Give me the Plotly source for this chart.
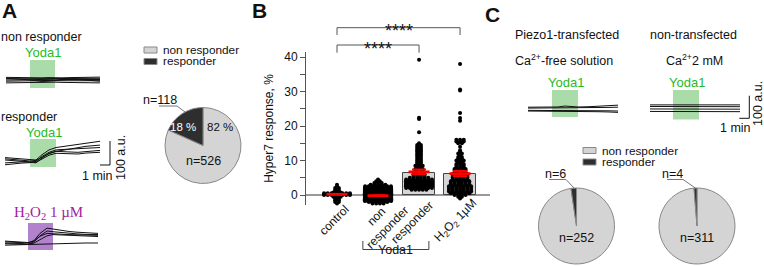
import numpy as np
import plotly.graph_objects as go

W, H = 764, 266
FONT = "Liberation Sans, Arial, sans-serif"

# ---------------- data ----------------
# Panel A: time courses (time in min, Hyper7 signal in a.u.)
t_nonresp = [0, 0.8, 1.6, 2.4, 3.0, 3.6, 4.2, 4.9, 5.6, 6.4, 7.2, 8.0, 8.8, 9.4]
nonresp_traces = [
    [11, 10, 9, 9, 8, 9, 10, 9, 9, 10, 11, 11, 12, 12],
    [5, 5, 4, 5, 6, 5, 4, 4, 5, 6, 6, 7, 7, 7],
    [0, 1, 2, 2, 1, 2, 3, 3, 2, 1, 1, 2, 2, 2],
    [-5, -4, -3, -2, -1, -1, -2, -3, -3, -2, -2, -3, -3, -3],
    [-12, -11, -10, -10, -9, -8, -8, -9, -10, -10, -10, -11, -11, -12],
    [7, 6, 3, 0, -4, -6, -5, -2, 1, 3, 2, 0, -3, -5],
]
yoda_nonresp = [2.4, 4.9]

t_resp = [0, 0.8, 1.6, 2.5, 3.1, 3.7, 4.4, 5.1, 5.8, 6.5, 7.3, 8.1, 8.9, 9.5]
resp_traces = [
    [10, 8, 6, 2, 0, 22, 42, 52, 56, 60, 65, 70, 75, 78],
    [0, -3, -5, -8, -6, 15, 32, 42, 44, 46, 47, 50, 52, 52],
    [-12, -10, -8, -9, -12, 8, 28, 36, 35, 33, 32, 35, 38, 40],
    [5, 3, 0, -4, -2, 12, 26, 36, 41, 48, 54, 57, 60, 62],
    [-20, -16, -13, -11, -9, 4, 20, 28, 28, 27, 25, 29, 31, 32],
]
yoda_resp = [2.5, 5.1]

t_h2o2 = [0, 0.8, 1.6, 2.3, 2.9, 3.5, 4.2, 4.8, 5.6, 6.4, 7.2, 8.0, 8.8, 9.3]
h2o2_traces = [
    [5, 4, 3, 0, 10, 40, 62, 58, 52, 48, 45, 42, 40, 40],
    [0, 0, -2, -5, 5, 30, 50, 47, 43, 40, 38, 36, 35, 35],
    [8, 6, 5, 2, 8, 28, 40, 38, 36, 35, 34, 33, 32, 32],
    [-3, -3, -4, -6, 0, 15, 30, 35, 34, 33, 32, 30, 28, 27],
    [-9, -8, -7, -6, -6, -4, -3, -1, 0, 1, 1, 0, 0, 0],
]
h2o2_stim = [2.3, 4.8]

# Panel C: time courses
t_c = [0, 1, 2, 2.4, 3.0, 3.7, 4.3, 5.0, 6, 7, 8, 9]
piezo_traces = [
    [8, 8, 8, 8, 9, 13, 10, 9, 10, 12, 14, 17],
    [4, 4, 4, 4, 5, 7, 6, 5, 5, 6, 7, 8],
    [-6, -6, -6, -6, -5, -5, -5, -6, -6, -7, -8, -9],
    [-9, -9, -9, -9, -9, -9, -10, -10, -11, -12, -13, -15],
]
yoda_piezo = [2.4, 5.0]
nontrans_traces = [
    [16, 16, 16, 16, 16, 16, 16, 16, 16, 16, 16, 16],
    [9, 9, 9, 8, 8, 8, 8, 8, 8, 8, 8, 8],
    [-2, -2, -3, -3, -3, -3, -3, -3, -3, -3, -3, -3],
    [-13, -13, -13, -14, -14, -14, -14, -14, -14, -14, -14, -14],
]
yoda_nontrans = [2.3, 4.9]

# Pies
pie_labels = ["non responder", "responder"]
pieA_values = [526, 118]
pieC1_values = [252, 6]
pieC2_values = [311, 4]

# Panel B: Hyper7 response, % (value rows and number of cells in each row)
b_categories = ["control", "non<br>responder", "responder", "H<sub>2</sub>O<sub>2</sub> 1µM"]
control_vals = [-3.0, -2.5, -2.0, -1.5, -1.0, -0.5, 0.0, 0.25, 0.5, 0.75, 1.0, 1.5, 2.0, 2.5, 3.0]
control_cnt = [1, 1, 2, 2, 2, 3, 8, 8, 8, 3, 2, 2, 2, 1, 1]
nonresp_vals = [-3.5, -3.0, -2.5, -2.0, -1.75, -1.5, -1.25, -1.0, -0.75, -0.5, -0.25, 0.0, 0.25,
                0.5, 0.75, 1.0, 1.25, 1.5, 1.75, 2.0, 2.5, 3.0, 3.5, 4.0, 4.5]
nonresp_cnt = [2, 3, 4, 6, 10, 22, 28, 32, 35, 37, 38, 38, 38, 36, 34, 32, 30, 26, 22, 16, 8, 5, 3, 2, 1]
resp_vals = [1.5, 2.0, 2.5, 3.0, 3.5, 4.0, 4.5, 5.0, 5.5, 6.0, 6.5, 7.0, 7.5, 8.0, 8.5, 9.0, 9.5,
             10.0, 10.5, 11.0, 11.5, 12.0, 12.5, 13.0, 13.5, 14.0, 14.5, 15.0, 18.2, 22.0, 22.4, 39.2]
resp_cnt = [5, 8, 10, 11, 10, 9, 8, 6, 4, 4, 3, 3, 3, 2, 3, 2, 2, 2, 2, 2, 2, 2, 2, 2, 2, 2, 2, 1, 1, 1, 1, 1]
h2o2_vals = [-1.0, -0.5, 0.0, 0.5, 1.0, 1.5, 2.0, 2.5, 3.0, 3.5, 4.0, 4.5, 5.0, 5.5, 6.0, 6.5, 7.0,
             7.5, 8.0, 8.5, 9.0, 9.5, 10.0, 10.5, 11.0, 11.5, 12.0, 12.5, 13.0, 14.0, 15.0, 15.5,
             16.0, 21.5, 22.3, 23.8, 30.3, 30.6, 38.0]
h2o2_cnt = [1, 2, 4, 6, 7, 7, 7, 7, 6, 6, 6, 5, 5, 5, 5, 4, 4, 4, 3, 3, 3, 2, 3, 2, 2, 1, 2, 1, 1,
            1, 2, 3, 3, 1, 1, 1, 1, 1, 1]
b_bar = [6.4, 6.0]          # bars for responder and H2O2
b_mean = [0.2, -0.2, 6.7, 6.2]
b_sem = [0.05, 0.04, 0.7, 0.75]
b_yticks = [0, 10, 20, 30, 40]


# ---------------- helpers ----------------
def dom_x(a, b):
    return [a / W, b / W]


def dom_y(top, bottom):
    return [1 - bottom / H, 1 - top / H]


def py(p):
    return 1 - p / H


def swarm(center, vals, cnts, maxw=0.64, step=0.09):
    xs, ys = [], []
    for v, n in zip(vals, cnts):
        s = min(step, maxw / (n - 1)) if n > 1 else 0.0
        for i in range(n):
            xs.append(center + (i - (n - 1) / 2) * s)
            ys.append(v)
    return xs, ys


fig = go.Figure()
annotations = []
shapes = []


def ann(text, x, y, size=12.5, color="#111", xanchor="center", **kw):
    annotations.append(dict(text=text, x=x / W, y=py(y), xref="paper", yref="paper",
                            showarrow=False, xanchor=xanchor, yanchor="middle", borderpad=0,
                            font=dict(size=size, color=color, family=kw.pop("family", FONT)), **kw))


GREEN_BOX = "#aadcaa"
GREEN_TXT = "#25bb25"
PURPLE_BOX = "#b183cc"
PURPLE_TXT = "#a0229e"

# ---------------- mini trace panels ----------------
# (t, traces, stim, box colour, x-domain px, x-range, y-domain px, baseline px, px per 100 a.u.)
mini = [
    (t_nonresp, nonresp_traces, yoda_nonresp, GREEN_BOX, (6, 100), (0, 9.4), (60, 88), 80, 24),
    (t_resp, resp_traces, yoda_resp, GREEN_BOX, (5, 112), (0, 10.7), (139, 167), 160, 24),
    (t_h2o2, h2o2_traces, h2o2_stim, PURPLE_BOX, (5, 98), (0, 9.3), (223, 250), 243, 24),
    (t_c, piezo_traces, yoda_piezo, GREEN_BOX, (528, 618), (0, 9.0), (90, 117), 109, 22.6),
    (t_c, nontrans_traces, yoda_nontrans, GREEN_BOX, (650, 752), (0, 10.2), (90, 119.5), 108.5, 22.6),
]
layout_axes = {}
for i, (t, traces, stim, boxc, xd, xr, yd, base, k) in enumerate(mini):
    n = i + 2
    xa, ya = f"x{n}", f"y{n}"
    scale = 100.0 / k
    yr = [(base - yd[1]) * scale, (base - yd[0]) * scale]
    layout_axes[f"xaxis{n}"] = dict(domain=dom_x(*xd), range=list(xr), visible=False,
                                    anchor=ya, fixedrange=True, automargin=False)
    layout_axes[f"yaxis{n}"] = dict(domain=dom_y(*yd), range=yr, visible=False,
                                    anchor=xa, fixedrange=True, automargin=False)
    shapes.append(dict(type="rect", xref=xa, yref=f"{ya} domain", x0=stim[0], x1=stim[1],
                       y0=0, y1=1, fillcolor=boxc, line=dict(width=0), layer="below"))
    for tr in traces:
        fig.add_trace(go.Scatter(x=t, y=tr, xaxis=xa, yaxis=ya, mode="lines",
                                 line=dict(color="#111", width=1), showlegend=False,
                                 hoverinfo="skip"))

# scale bars (1 min, 100 a.u.)
scale_min, scale_au = 1, 100
for n, (xe, yb) in [(3, (10.5, -20.8)), (6, (9.93, -43.4))]:
    fig.add_trace(go.Scatter(x=[xe - scale_min, xe, xe], y=[yb, yb, yb + scale_au],
                             xaxis=f"x{n}", yaxis=f"y{n}", mode="lines",
                             line=dict(color="#111", width=1), showlegend=False, hoverinfo="skip"))

# ---------------- panel B ----------------
groups = [(control_vals, control_cnt), (nonresp_vals, nonresp_cnt),
          (resp_vals, resp_cnt), (h2o2_vals, h2o2_cnt)]
fig.add_trace(go.Bar(x=[2, 3], y=b_bar, width=0.76, marker=dict(color="#d6d6d6",
                     line=dict(color="#444", width=1)), showlegend=False, hoverinfo="skip"))
for gi, (v, c) in enumerate(groups):
    xs, ys = swarm(gi, v, c)
    fig.add_trace(go.Scatter(x=xs, y=ys, mode="markers", cliponaxis=False,
                             marker=dict(color="#000", size=4, line=dict(width=0)),
                             showlegend=False, hoverinfo="skip"))
fig.add_trace(go.Scatter(x=[0, 1, 2, 3], y=b_mean, mode="markers", cliponaxis=False,
                         marker=dict(symbol="line-ew", size=15, color="red",
                                     line=dict(color="red", width=2.8)),
                         error_y=dict(type="data", array=b_sem, color="red", thickness=2, width=7),
                         showlegend=False, hoverinfo="skip"))

# category labels (rotated, centred lines), placed on the category axis
cat_label_pos = [(-0.07, 220), (1.1, 222), (1.84, 222), (2.9, 221)]
for lab, (cx, cy) in zip(b_categories, cat_label_pos):
    annotations.append(dict(text=lab, x=cx, y=py(cy), xref="x", yref="paper", showarrow=False,
                            textangle=-45, align="center", xanchor="center", yanchor="middle",
                            font=dict(size=12, color="#111", family=FONT)))

# significance brackets
for x1, ytop, ybot, ytxt in [(3, 27.7, 35, 17), (2, 45, 52.7, 35)]:
    shapes.append(dict(type="path", xref="x", yref="paper",
                       path=f"M 0,{py(ybot)} L 0,{py(ytop)} L {x1},{py(ytop)} L {x1},{py(ybot)}",
                       line=dict(color="#555", width=1)))
    annotations.append(dict(text="****", x=x1 / 2, y=py(ytxt + 2), xref="x", yref="paper",
                            showarrow=False, font=dict(size=18, color="#111", family=FONT)))
# Yoda1 group bracket
shapes.append(dict(type="path", xref="x", yref="paper",
                   path=f"M 0.63,{py(241)} L 0.63,{py(249.5)} L 2.24,{py(249.5)} L 2.24,{py(241)}",
                   line=dict(color="#444", width=1)))
annotations.append(dict(text="Yoda1", x=1.43, y=py(258.5), xref="x", yref="paper",
                        showarrow=False, font=dict(size=12.5, color="#111", family=FONT)))

# ---------------- pies ----------------
PIE_LIGHT, PIE_DARK = "#d4d4d4", "#2e2e2e"
for vals, xd, yd in [(pieA_values, (165, 241), (107.5, 183.5)),
                     (pieC1_values, (538.5, 614.5), (188, 264)),
                     (pieC2_values, (659, 735), (188, 264))]:
    fig.add_trace(go.Pie(labels=pie_labels, values=vals, sort=False, direction="clockwise",
                         domain=dict(x=dom_x(*xd), y=dom_y(*yd)), textinfo="none",
                         marker=dict(colors=[PIE_LIGHT, PIE_DARK], line=dict(color="#888", width=1)),
                         showlegend=False, hoverinfo="skip"))

pctA = [round(100 * v / sum(pieA_values)) for v in pieA_values]
ann(f"n={pieA_values[1]}", 160, 100, size=12.5)
ann(f"{pctA[1]} %", 183, 127, size=11.5, color="white")
ann(f"{pctA[0]} %", 220, 127, size=11.5)
ann(f"n={pieA_values[0]}", 203, 161, size=12.5)
ann(f"n={pieC1_values[1]}", 555, 174, size=12.5)
ann(f"n={pieC1_values[0]}", 576.5, 238, size=12.5)
ann(f"n={pieC2_values[1]}", 672, 174, size=12.5)
ann(f"n={pieC2_values[0]}", 697, 238, size=12.5)
for pth in ["M 159,106 L 177,106 L 185,112",
            "M 549,179.5 L 566,179.5 L 574.5,188.5",
            "M 667,179.5 L 683,179.5 L 696,188.5"]:
    pts = [p.split(",") for p in pth.replace("M ", "").split(" L ")]
    path = "M " + " L ".join(f"{float(a) / W},{py(float(b))}" for a, b in pts)
    shapes.append(dict(type="path", xref="paper", yref="paper", path=path,
                       line=dict(color="#777", width=1)))

# legends (manual swatches)
for (x0, y0), lbls in [((144, 47), pie_labels), ((583, 147.5), pie_labels)]:
    for j, (lab, col) in enumerate(zip(lbls, [PIE_LIGHT, PIE_DARK])):
        yy = y0 + j * 11.5
        shapes.append(dict(type="rect", xref="paper", yref="paper", x0=x0 / W, x1=(x0 + 13) / W,
                           y0=py(yy + 6), y1=py(yy), fillcolor=col,
                           line=dict(color="#888", width=1)))
        ann(lab, x0 + 18, yy + 3, size=11.8, xanchor="left")

# ---------------- texts ----------------
ann("<b>A</b>", 1, 10.5, size=21, xanchor="left")
ann("<b>B</b>", 251, 10.5, size=21, xanchor="left")
ann("<b>C</b>", 484, 14.5, size=21, xanchor="left")
ann("non responder", 0, 37, xanchor="left")
ann("Yoda1", 42.5, 52, size=13, color=GREEN_TXT)
ann("responder", 0, 117, xanchor="left")
ann("Yoda1", 44, 132, size=13, color=GREEN_TXT)
ann("1 min", 113.5, 175.5, xanchor="right")
ann("100 a.u.", 121, 157, textangle=-90)
ann("H<sub>2</sub>O<sub>2</sub> 1 µM", 48, 213, size=15, color=PURPLE_TXT,
    family="Liberation Serif, Times New Roman, serif")
ann("Piezo1-transfected", 514, 35, xanchor="left")
ann("Ca<sup>2+</sup>-free solution", 514, 60, xanchor="left")
ann("non-transfected", 649, 35, xanchor="left")
ann("Ca<sup>2+</sup>2 mM", 665, 60, xanchor="left")
ann("Yoda1", 566, 82, size=13, color=GREEN_TXT)
ann("Yoda1", 687, 82, size=13, color=GREEN_TXT)
ann("1 min", 751.5, 128, xanchor="right")
ann("100 a.u.", 758, 104, textangle=-90)

fig.update_layout(
    width=W, height=H, margin=dict(l=0, r=0, t=0, b=0, autoexpand=False),
    paper_bgcolor="white", plot_bgcolor="white",
    font=dict(family=FONT, size=12, color="#111"),
    xaxis=dict(domain=dom_x(306, 490), range=[-0.756, 3.73], tickvals=[0, 1, 2, 3],
               showticklabels=False, ticks="", showline=False, automargin=False,
               showgrid=False, zeroline=False, fixedrange=True),
    yaxis=dict(domain=dom_y(52, 205), range=[-2.9, 41.45], tickvals=b_yticks, automargin=False,
               ticks="outside", ticklen=5, tickcolor="#555", showline=True, linecolor="#555",
               linewidth=1, showgrid=False, zeroline=True, zerolinecolor="#999",
               zerolinewidth=1.5, tickfont=dict(size=12),
               minor=dict(dtick=5, ticks="outside", ticklen=5, tickcolor="#555", showgrid=False),
               title=dict(text="Hyper7 response, %", font=dict(size=12), standoff=8),
               fixedrange=True),
    annotations=annotations, shapes=shapes, showlegend=False, bargap=0,
    **layout_axes,
)

fig.write_html("out.html", config={"displayModeBar": False},
               post_script="document.body.style.margin='0';document.body.style.overflow='hidden';")
